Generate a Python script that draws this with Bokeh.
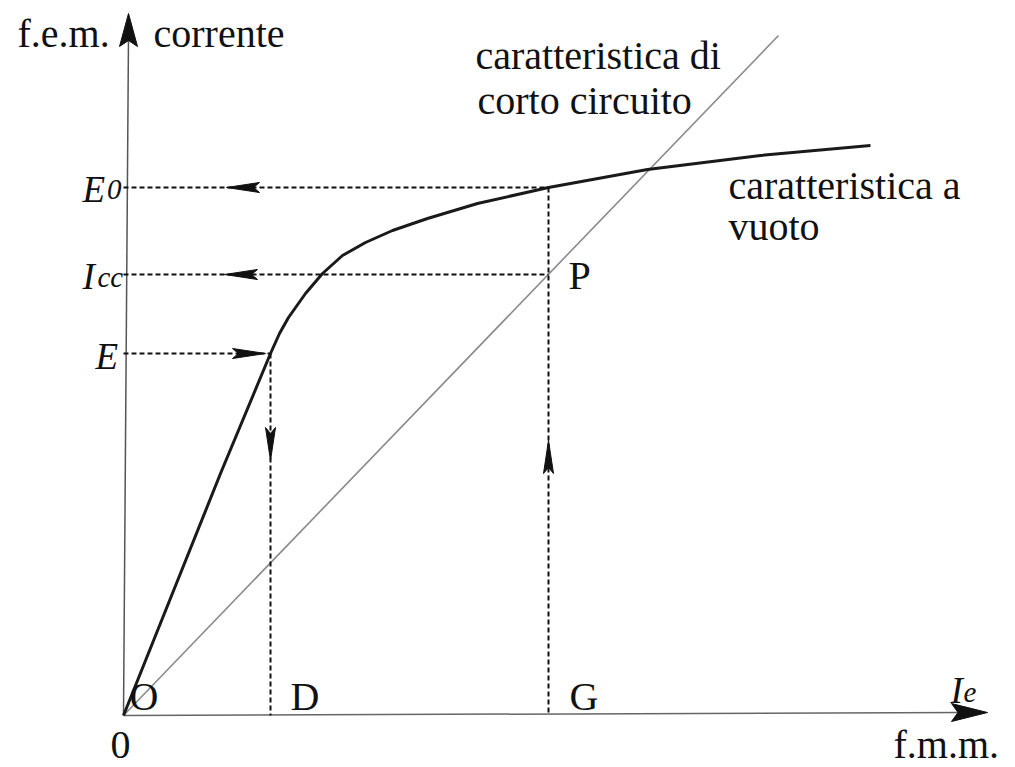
from bokeh.plotting import figure
from bokeh.models import Range1d, ColumnDataSource
from bokeh.core.properties import value
from bokeh.embed import file_html
from bokeh.resources import INLINE

# --- open-circuit characteristic (f.e.m. vs excitation current) ---
ie_open = [0.0, 0.97, 1.47, 1.56, 1.65, 1.82, 1.99, 2.19, 2.42, 2.69, 3.04, 3.54, 4.25, 5.24, 6.37, 7.47]
emf_open = [0.0, 2.42, 3.62, 3.82, 3.98, 4.22, 4.42, 4.60, 4.73, 4.85, 4.97, 5.12, 5.28, 5.46, 5.60, 5.70]

# --- short-circuit characteristic (straight line through the origin) ---
ie_short = [0.0, 6.55]
icc_short = [0.0, 6.80]

# --- construction points ---
E_level = 3.62      # f.e.m. E read on the open-circuit curve
D_point = 1.47      # excitation giving E
G_point = 4.25      # excitation of point P
Icc_level = 4.41    # short-circuit current at G (point P)
E0_level = 5.28     # no-load f.e.m. at G

FONT = "Liberation Serif"
INK = "#111111"

p = figure(width=1015, height=767, output_backend="svg", toolbar_location=None,
           x_range=Range1d(-1.23, 8.92), y_range=Range1d(-0.52, 7.15),
           min_border=0, outline_line_color=None, background_fill_color="white")
p.axis.visible = False
p.grid.visible = False

# axes
p.line([0.0, 0.05], [0.0, 6.80], line_color="#555555", line_width=1.5)
p.line([0.0, 8.40], [0.0, 0.03], line_color="#666666", line_width=1.5)


def head(tx, ty, dx, dy, length, half):
    """Filled arrowhead with a slight notch, tip at (tx, ty) pointing along (dx, dy)."""
    nx, ny = -dy, dx
    bx, by = tx - dx * length, ty - dy * length
    mx, my = tx - dx * length * 0.82, ty - dy * length * 0.82
    return ([tx, bx + nx * half, mx, bx - nx * half],
            [ty, by + ny * half, my, by - ny * half])


heads = [head(0.05, 7.02, 0, 1, 0.33, 0.09),   # f.e.m. axis
         head(8.64, 0.03, 1, 0, 0.36, 0.09)]   # f.m.m. axis

# short-circuit characteristic
p.line(ie_short, icc_short, line_color="#8a8a8a", line_width=1.6)

# open-circuit characteristic
p.line(ie_open, emf_open, line_color="#1a1a1a", line_width=3, line_join="round")

# dashed construction lines
seg = ColumnDataSource(dict(
    x0=[0.0, 0.0, 0.0, D_point, G_point],
    y0=[E0_level, Icc_level, E_level, E_level, E0_level],
    x1=[G_point, G_point, D_point, D_point, G_point],
    y1=[E0_level, Icc_level, E_level, 0.0, 0.0],
))
p.segment("x0", "y0", "x1", "y1", source=seg, line_color=INK, line_width=2, line_dash="5 3")

# arrows along the construction
heads += [head(1.03, E0_level, -1, 0, 0.33, 0.05),
          head(1.01, Icc_level, -1, 0, 0.33, 0.05),
          head(1.42, E_level, 1, 0, 0.33, 0.05),
          head(D_point, 2.55, 0, -1, 0.33, 0.05),
          head(G_point, 2.75, 0, 1, 0.33, 0.05)]
p.patches([h[0] for h in heads], [h[1] for h in heads], fill_color=INK, line_color=INK, line_width=1)

# plain labels
plain = ColumnDataSource(dict(
    x=[-1.06, 0.30, 3.52, 3.54, 6.05, 6.05, 0.06, 1.67, 4.46, 4.45, -0.13, 7.70],
    y=[6.82, 6.82, 6.60, 6.15, 5.30, 4.89, 0.19, 0.19, 0.19, 4.40, -0.29, -0.29],
    t=["f.e.m.", "corrente", "caratteristica di", "corto circuito",
       "caratteristica a", "vuoto", "O", "D", "G", "P", "0", "f.m.m."],
))
p.text("x", "y", text="t", source=plain, text_font=value(FONT), text_font_size=value("40px"),
       text_color=INK, text_baseline="alphabetic", text_align="left")

# italic symbols
ital = ColumnDataSource(dict(
    x=[-0.41, -0.41, -0.28, 8.27],
    y=[5.26, 4.39, 3.59, 0.25],
    t=["E", "I", "E", "I"],
))
p.text("x", "y", text="t", source=ital, text_font=value(FONT), text_font_size=value("37px"),
       text_font_style="italic", text_color=INK, text_baseline="alphabetic", text_align="left")

# subscripts
sub = ColumnDataSource(dict(
    x=[-0.165, -0.26, 8.40],
    y=[5.26, 4.39, 0.23],
    t=["0", "cc", "e"],
))
p.text("x", "y", text="t", source=sub, text_font=value(FONT), text_font_size=value("29px"),
       text_font_style="italic", text_color=INK, text_baseline="alphabetic", text_align="left")

open("out.html", "w").write(file_html(p, INLINE))
